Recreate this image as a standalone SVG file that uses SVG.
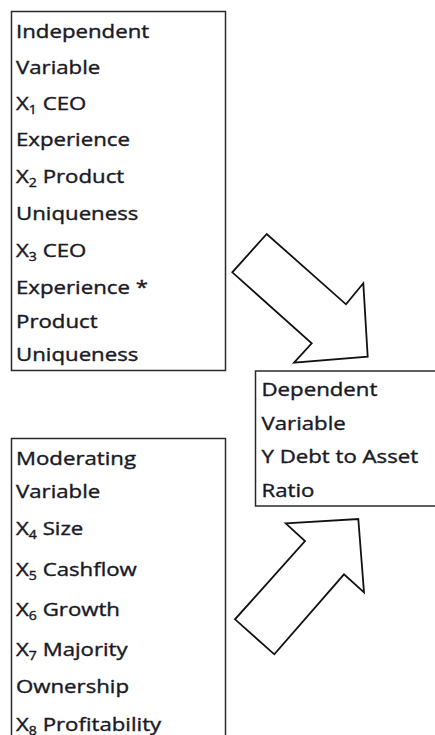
<svg xmlns="http://www.w3.org/2000/svg" width="435" height="735" viewBox="0 0 435 735">
<style>
.box{fill:#fff;stroke:#2a2a2a;stroke-width:1.5}
.arrow{fill:#fff;stroke:#111;stroke-width:1.8;stroke-linejoin:miter}
.t{font-family:"Open Sans","Liberation Sans",sans-serif;font-size:19px;fill:#1a1a26;stroke:#1a1a26;stroke-width:0.4}
.sub{font-size:12px}
</style>
<rect width="435" height="735" fill="#fff"/>
<g id="connectors">
<polygon class="arrow" points="266.7,234 232.3,272.3 311.7,343.3 294,362.7 367.7,356.7 363.3,283.3 346,304.3"/>
<polygon class="arrow" points="285.7,523.3 358.3,519 364,592.3 344,574.3 274.3,654.3 235,619.3 305,541"/>
</g>
<g id="independent">
<rect class="box" x="11.5" y="11.5" width="214" height="359"/>
<g transform="scale(1.17 1)">
<text class="t" x="13.7" y="38.5">Independent</text>
<text class="t" x="13.7" y="74">Variable</text>
<text class="t" x="13.7" y="110">X<tspan class="sub" dy="4">1</tspan><tspan dy="-4"> CEO</tspan></text>
<text class="t" x="13.7" y="146">Experience</text>
<text class="t" x="13.7" y="183">X<tspan class="sub" dy="4">2</tspan><tspan dy="-4"> Product</tspan></text>
<text class="t" x="13.7" y="220">Uniqueness</text>
<text class="t" x="13.7" y="257">X<tspan class="sub" dy="4">3</tspan><tspan dy="-4"> CEO</tspan></text>
<text class="t" x="13.7" y="294">Experience *</text>
<text class="t" x="13.7" y="328">Product</text>
<text class="t" x="13.7" y="361">Uniqueness</text>
</g>
</g>
<g id="dependent">
<rect class="box" x="255.5" y="371" width="190" height="135"/>
<g transform="scale(1.17 1)">
<text class="t" x="223.5" y="396">Dependent</text>
<text class="t" x="223.5" y="430">Variable</text>
<text class="t" x="223.5" y="463">Y Debt to Asset</text>
<text class="t" x="223.5" y="497">Ratio</text>
</g>
</g>
<g id="moderating">
<rect class="box" x="11.5" y="438.5" width="214" height="310"/>
<g transform="scale(1.17 1)">
<text class="t" x="13.7" y="465">Moderating</text>
<text class="t" x="13.7" y="498">Variable</text>
<text class="t" x="13.7" y="535">X<tspan class="sub" dy="4">4</tspan><tspan dy="-4"> Size</tspan></text>
<text class="t" x="13.7" y="576">X<tspan class="sub" dy="4">5</tspan><tspan dy="-4"> Cashflow</tspan></text>
<text class="t" x="13.7" y="616.5">X<tspan class="sub" dy="4">6</tspan><tspan dy="-4"> Growth</tspan></text>
<text class="t" x="13.7" y="656">X<tspan class="sub" dy="4">7</tspan><tspan dy="-4"> Majority</tspan></text>
<text class="t" x="13.7" y="693">Ownership</text>
<text class="t" x="13.7" y="731">X<tspan class="sub" dy="4">8</tspan><tspan dy="-4"> Profitability</tspan></text>
</g>
</g>
</svg>
